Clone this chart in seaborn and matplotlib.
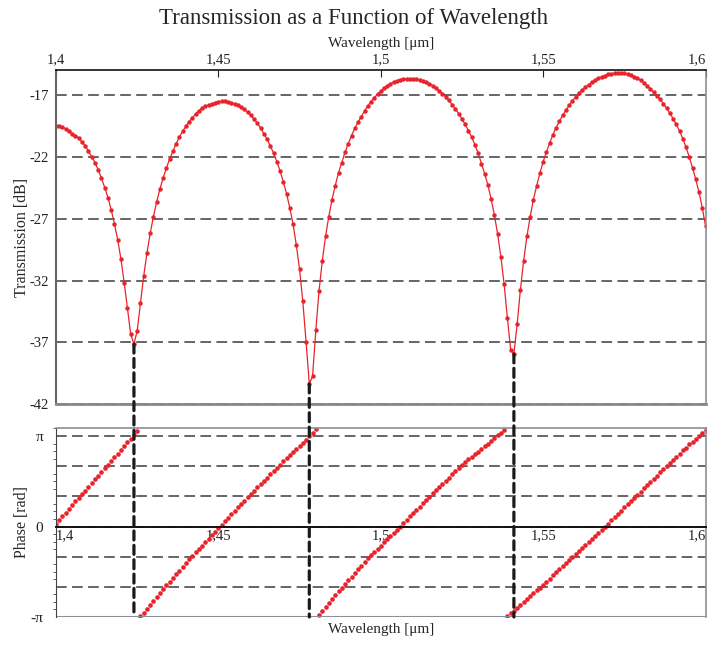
import numpy as np
import pandas as pd
import matplotlib
matplotlib.use("Agg")
import matplotlib.pyplot as plt
from matplotlib.patches import ConnectionPatch
from matplotlib.ticker import MultipleLocator
import seaborn as sns

sns.set_style("white")
plt.rcParams['font.family'] = ['Liberation Serif', 'DejaVu Serif']
plt.rcParams['axes.unicode_minus'] = False

# sampling grid: 1.400 ... 1.600 um, one sample per nm
wavelength = np.round(np.linspace(1.4, 1.6, 201), 3)

# transmission [dB] (one value per sample)
transmission = [
    -19.48, -19.51, -19.56, -19.72, -19.89, -20.10, -20.26, -20.48, -20.77, -21.07,
    -21.53, -21.99, -22.45, -23.04, -23.72, -24.47, -25.28, -26.28, -27.41, -28.70,
    -30.27, -32.18, -34.26, -36.34, -37.15, -36.07, -33.83, -31.64, -29.78, -28.19,
    -26.82, -25.63, -24.58, -23.69, -22.88, -22.15, -21.53, -20.91, -20.37, -19.91,
    -19.51, -19.13, -18.81, -18.51, -18.24, -18.05, -17.89, -17.78, -17.70, -17.59,
    -17.51, -17.49, -17.49, -17.51, -17.59, -17.70, -17.81, -17.94, -18.13, -18.38,
    -18.62, -18.91, -19.27, -19.64, -20.10, -20.56, -21.10, -21.69, -22.37, -23.12,
    -24.01, -24.98, -26.12, -27.46, -29.11, -31.10, -33.69, -36.96, -40.38, -39.76,
    -36.04, -32.83, -30.40, -28.43, -26.82, -25.44, -24.31, -23.26, -22.45, -21.61,
    -20.91, -20.26, -19.67, -19.18, -18.73, -18.27, -17.86, -17.51, -17.19, -16.91,
    -16.66, -16.43, -16.23, -16.06, -15.93, -15.82, -15.74, -15.69, -15.66, -15.65,
    -15.66, -15.69, -15.75, -15.83, -15.94, -16.07, -16.22, -16.41, -16.62, -16.86,
    -17.13, -17.42, -17.75, -18.10, -18.49, -18.91, -19.36, -19.86, -20.40, -21.00,
    -21.69, -22.53, -23.34, -24.28, -25.41, -26.71, -28.25, -30.11, -32.32, -35.04,
    -37.60, -37.95, -35.55, -32.75, -30.40, -28.43, -26.87, -25.44, -24.34, -23.31,
    -22.37, -21.61, -20.86, -20.20, -19.62, -19.10, -18.63, -18.21, -17.82, -17.46,
    -17.13, -16.84, -16.58, -16.34, -16.13, -15.94, -15.77, -15.62, -15.50, -15.40,
    -15.31, -15.25, -15.21, -15.19, -15.20, -15.23, -15.29, -15.37, -15.48, -15.62,
    -15.79, -15.99, -16.22, -16.47, -16.73, -17.02, -17.33, -17.67, -18.04, -18.44,
    -18.88, -19.36, -19.89, -20.50, -21.20, -22.00, -22.88, -23.80, -24.85, -26.10,
    -27.57,
]

# wrapped phase [rad], one list per branch
phase_branch1 = [
    0.10, 0.23, 0.36, 0.48, 0.61, 0.74, 0.87, 1.00, 1.12, 1.25, 1.38, 1.51, 1.64,
    1.76, 1.89, 2.02, 2.15, 2.28, 2.40, 2.53, 2.66, 2.79, 2.92, 3.04, 3.17, 3.30,
]
phase_branch2 = [
    -3.12, -2.99, -2.85, -2.72, -2.58, -2.45, -2.31, -2.18, -2.04, -1.91, -1.78,
    -1.66, -1.53, -1.40, -1.27, -1.14, -1.02, -0.90, -0.78, -0.66, -0.54, -0.42,
    -0.30, -0.18, -0.06, 0.06, 0.18, 0.30, 0.42, 0.54, 0.66, 0.78, 0.90, 1.02,
    1.14, 1.25, 1.36, 1.48, 1.59, 1.70, 1.82, 1.93, 2.04, 2.15, 2.26, 2.37, 2.48,
    2.59, 2.69, 2.80, 2.91, 3.02, 3.13, 3.25, 3.38,
]
phase_branch3 = [
    -3.06, -2.93, -2.79, -2.66, -2.52, -2.39, -2.25, -2.12, -1.99, -1.87, -1.74,
    -1.61, -1.48, -1.36, -1.23, -1.10, -0.99, -0.88, -0.77, -0.66, -0.55, -0.44,
    -0.33, -0.22, -0.11, 0.00, 0.12, 0.23, 0.35, 0.46, 0.58, 0.69, 0.81, 0.92,
    1.04, 1.15, 1.26, 1.37, 1.48, 1.59, 1.70, 1.81, 1.92, 2.03, 2.14, 2.23, 2.33,
    2.42, 2.51, 2.60, 2.70, 2.79, 2.88, 2.98, 3.07, 3.16, 3.25, 3.35,
]
phase_branch4 = [
    -3.12, -3.02, -2.92, -2.82, -2.72, -2.62, -2.52, -2.42, -2.32, -2.22, -2.12,
    -2.02, -1.91, -1.81, -1.70, -1.59, -1.48, -1.38, -1.27, -1.16, -1.06, -0.95,
    -0.85, -0.74, -0.64, -0.53, -0.43, -0.32, -0.22, -0.11, -0.01, 0.10, 0.21,
    0.32, 0.43, 0.55, 0.66, 0.77, 0.88, 0.99, 1.10, 1.21, 1.33, 1.44, 1.55, 1.66,
    1.77, 1.88, 1.99, 2.10, 2.21, 2.32, 2.42, 2.53, 2.64, 2.74, 2.85, 2.95, 3.05,
    3.15, 3.25, 3.35,
]
phase = phase_branch1 + phase_branch2 + phase_branch3 + phase_branch4

x_ticks = [1.4, 1.45, 1.5, 1.55, 1.6]
x_tick_labels = ['1,4', '1,45', '1,5', '1,55', '1,6']
db_ticks = [-42, -37, -32, -27, -22, -17]

df = pd.DataFrame({'wavelength': wavelength,
                   'transmission': transmission,
                   'phase': phase})

red = '#e8232c'
grid_kw = dict(color='#3c3c3c', linestyle=(0, (7, 3.5)), linewidth=1.1)

fig = plt.figure(figsize=(7.12, 6.45), dpi=100)
W, H = 712, 645
ax1 = fig.add_axes([56 / W, 1 - 404 / H, 649.5 / W, 334 / H])
ax2 = fig.add_axes([56 / W, 1 - 617 / H, 649.5 / W, 189 / H])

# --- transmission panel
sns.lineplot(data=df, x='wavelength', y='transmission', ax=ax1, color=red,
             linewidth=0.9, marker='o', markersize=3.2, markeredgewidth=0)
ax1.set_xlim(1.4, 1.6)
ax1.set_ylim(-42, -14.95)
ax1.set_yticks(db_ticks)
ax1.set_yticklabels([str(t) for t in db_ticks], fontsize=10.5)
ax1.yaxis.grid(True, **grid_kw)
ax1.set_axisbelow(True)
ax1.xaxis.tick_top()
ax1.xaxis.set_label_position('top')
ax1.set_xticks(x_ticks)
ax1.set_xticklabels(x_tick_labels, fontsize=10.5)
ax1.get_xticklabels()[-1].set_horizontalalignment('right')
ax1.tick_params(axis='x', direction='in', length=5, pad=3, colors='#222')
ax1.tick_params(axis='y', direction='out', length=3, pad=2, colors='#222')
ax1.set_xlabel('Wavelength [\u03bcm]', fontsize=11)
ax1.xaxis.set_label_coords(0.5, 1.07)
ax1.set_ylabel('Transmission [dB]', fontsize=11.5)
ax1.yaxis.set_label_coords(-0.04, 0.5)
ax1.spines['top'].set_color('#111')
ax1.spines['top'].set_linewidth(1.2)
ax1.spines['left'].set_color('#666')
ax1.spines['left'].set_linewidth(1.5)
ax1.spines['bottom'].set_color('#888')
ax1.spines['bottom'].set_linewidth(2.0)
ax1.spines['right'].set_color('#8a8f99')
ax1.spines['right'].set_linewidth(1.2)

# --- phase panel
sns.scatterplot(data=df, x='wavelength', y='phase', ax=ax2, color=red,
                s=11, linewidth=0)
ax2.set_xlim(1.4, 1.6)
ax2.set_ylim(-np.pi, 3.42)
ax2.set_yticks(np.pi * np.array([-3, -2, -1, 0, 1, 2, 3]) / 3)
ax2.set_yticklabels(['-\u03c0', '', '', '0', '', '', '\u03c0'], fontsize=11)
ax2.yaxis.set_minor_locator(MultipleLocator(np.pi / 12))
ax2.yaxis.grid(True, which='major', **grid_kw)
ax2.set_axisbelow(True)
ax2.axhline(-np.pi, color='#8a8f99', linewidth=2.2, zorder=1.5)
ax2.spines['bottom'].set_position(('data', 0))
ax2.spines['bottom'].set_color('#111')
ax2.spines['bottom'].set_linewidth(1.4)
for side in ['top', 'right']:
    ax2.spines[side].set_color('#8a8f99')
    ax2.spines[side].set_linewidth(1.2)
ax2.spines['left'].set_color('#444')
ax2.set_xticks(x_ticks)
ax2.set_xticklabels(x_tick_labels, fontsize=10.5)
ax2.get_xticklabels()[0].set_horizontalalignment('left')
ax2.get_xticklabels()[-1].set_horizontalalignment('right')
ax2.tick_params(axis='x', direction='in', length=5, pad=2, colors='#222')
ax2.tick_params(axis='y', which='major', direction='out', length=4, pad=5, colors='#222')
ax2.tick_params(axis='y', which='minor', direction='out', length=2.5, left=True, colors='#444')
ax2.set_xlabel('Wavelength [\u03bcm]', fontsize=11)
ax2.xaxis.set_label_coords(0.5, -0.03)
ax2.set_ylabel('Phase [rad]', fontsize=11.5)
ax2.yaxis.set_label_coords(-0.04, 0.5)

# --- dashed markers from each transmission dip down to the phase panel
t = np.array(transmission)
dips = [i for i in range(1, len(t) - 1) if t[i] < t[i - 1] and t[i] < t[i + 1] and t[i] < -30]
for i in dips:
    con = ConnectionPatch(xyA=(wavelength[i], t[i]), coordsA=ax1.transData,
                          xyB=(wavelength[i], -np.pi), coordsB=ax2.transData,
                          color='#1a1a1a', linewidth=2.3, linestyle=(0, (2.8, 1.7)),
                          zorder=5)
    fig.add_artist(con)

fig.text(354 / W, 1 - 24 / H, 'Transmission as a Function of Wavelength',
         ha='center', va='baseline', fontsize=16.5)

fig.savefig('out.png', dpi=100)
